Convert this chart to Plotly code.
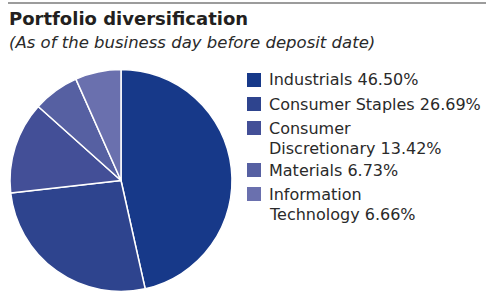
import plotly.graph_objects as go

sectors = ["Industrials", "Consumer Staples", "Consumer Discretionary", "Materials", "Information Technology"]
legend_labels = ["Industrials 46.50%", "Consumer Staples 26.69%", "Consumer<br>Discretionary 13.42%",
                 "Materials 6.73%", "Information<br>Technology 6.66%"]
weights = [46.50, 26.69, 13.42, 6.73, 6.66]
colors = ["#173989", "#2E448E", "#434F97", "#5660A2", "#6A70AE"]

W, H = 486, 301
FONT = "DejaVu Sans"
TXT = "#2a2a2a"

fig = go.Figure()
fig.add_trace(go.Pie(
    labels=sectors, values=weights, sort=False, direction="clockwise", rotation=0,
    marker=dict(colors=colors, line=dict(color="white", width=1.5)),
    textinfo="none", hoverinfo="label+percent", showlegend=False,
    domain=dict(x=[10 / W, 232 / W], y=[1 - 292 / H, 1 - 69 / H]),
))

# top rule
fig.add_shape(type="line", xref="paper", yref="paper", x0=8 / W, x1=1, y0=1 - 3 / H, y1=1 - 3 / H,
              line=dict(color="#3a3a3a", width=1.2))
fig.add_annotation(xref="paper", yref="paper", x=7 / W, y=1 - 19 / H, xanchor="left", yanchor="middle",
                   text="<b>Portfolio diversification</b>", showarrow=False,
                   font=dict(family=FONT, size=18, color="#231f20"))
fig.add_annotation(xref="paper", yref="paper", x=7 / W, y=1 - 43 / H, xanchor="left", yanchor="middle",
                   text="<i>(As of the business day before deposit date)</i>", showarrow=False,
                   font=dict(family=FONT, size=16.5, color=TXT))

# custom legend
row_tops = [73, 97, 121, 163, 187]
LINE = 20
for i, (lab, col) in enumerate(zip(legend_labels, colors)):
    t = row_tops[i]
    fig.add_shape(type="rect", xref="paper", yref="paper", x0=247 / W, x1=261 / W,
                  y0=1 - (t + 14) / H, y1=1 - t / H, fillcolor=col, line=dict(width=0))
    for j, line in enumerate(lab.split("<br>")):
        fig.add_annotation(xref="paper", yref="paper", x=267 / W, y=1 - (t + 7 + j * LINE) / H,
                           xanchor="left", yanchor="middle",
                           text=line, showarrow=False, align="left",
                           font=dict(family=FONT, size=16, color=TXT))

fig.update_layout(width=W, height=H, margin=dict(l=0, r=0, t=0, b=0),
                  paper_bgcolor="white", plot_bgcolor="white")
fig.write_html("out.html", config={"displayModeBar": False},
               post_script="document.body.style.margin='0';")
